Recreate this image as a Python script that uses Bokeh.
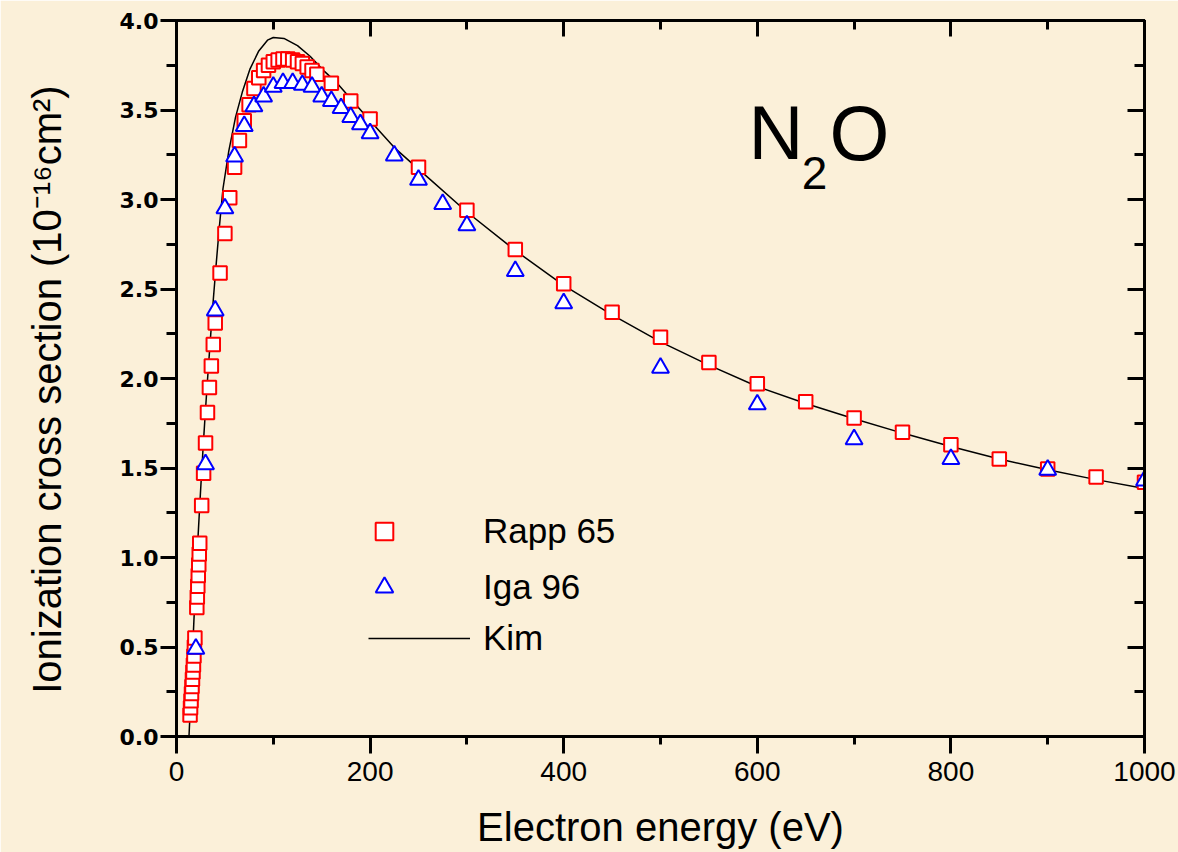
from bokeh.plotting import figure
from bokeh.models import (LinearAxis, Range1d, Legend, LegendItem, Label,
                          SingleIntervalTicker, PrintfTickFormatter, CustomJSTickFormatter)
from bokeh.embed import file_html
from bokeh.resources import INLINE

# ---------------- data ----------------
rapp_E = [14.0, 14.5, 15.0, 15.5, 16.0, 16.5, 17.0, 17.5, 18.0, 18.5, 19.0,
          21.0, 21.5, 22.0, 22.5, 23.0, 23.5, 24.0,
          26, 28, 30, 32, 34, 36, 38, 40,
          45, 50, 55, 60,
          65, 70, 75, 80, 85, 90, 95, 100, 105, 110, 115, 120, 125, 130, 135, 140, 145,
          160, 180, 200, 250, 300, 350, 400, 450, 500, 550, 600, 650, 700, 750, 800,
          850, 900, 950, 1000]
rapp_sigma = [0.12, 0.16, 0.20, 0.24, 0.28, 0.32, 0.36, 0.40, 0.45, 0.50, 0.55,
              0.72, 0.78, 0.84, 0.90, 0.96, 1.02, 1.08,
              1.29, 1.47, 1.64, 1.81, 1.95, 2.07, 2.19, 2.31,
              2.59, 2.81, 3.01, 3.18,
              3.33, 3.44, 3.53, 3.62, 3.68, 3.72, 3.75, 3.77, 3.78, 3.785, 3.785, 3.78, 3.77,
              3.76, 3.74, 3.72, 3.70,
              3.65, 3.55, 3.45, 3.18, 2.94, 2.72, 2.53, 2.37, 2.23, 2.09, 1.97, 1.87, 1.78,
              1.70, 1.63, 1.55, 1.495, 1.45, 1.42]

iga_E = [20, 30, 40, 50, 60, 70, 80, 90, 100, 110, 120, 130, 140, 150, 160, 170, 180,
         190, 200, 225, 250, 275, 300, 350, 400, 500, 600, 700, 800, 900, 1000]
iga_sigma = [0.49, 1.52, 2.38, 2.95, 3.24, 3.41, 3.52, 3.575, 3.63, 3.65, 3.65, 3.64,
             3.63, 3.575, 3.55, 3.51, 3.46, 3.42, 3.37, 3.245, 3.11, 2.975, 2.855, 2.60,
             2.42, 2.06, 1.855, 1.66, 1.55, 1.49, 1.43]

kim_E = [12.9, 14, 16, 18, 20, 22, 24, 26, 28, 30, 32, 35, 38, 41, 44, 48, 54, 61, 68,
         76, 85, 94, 100, 111, 125, 138, 152, 166, 187, 200, 225, 250, 300, 350, 400,
         450, 500, 550, 600, 650, 700, 750, 800, 850, 900, 950, 1000]
kim_sigma = [0.0, 0.13, 0.40, 0.65, 0.88, 1.09, 1.29, 1.48, 1.66, 1.83, 1.99, 2.22, 2.44,
             2.64, 2.83, 3.06, 3.27, 3.46, 3.60, 3.73, 3.83, 3.89, 3.905, 3.90, 3.86, 3.80,
             3.72, 3.65, 3.52, 3.44, 3.29, 3.17, 2.93, 2.715, 2.52, 2.355, 2.205, 2.075,
             1.955, 1.86, 1.775, 1.695, 1.62, 1.55, 1.49, 1.435, 1.385]

x_title = "Electron energy (eV)"
y_title = "Ionization cross section (10\u207b\u00b9\u2076cm\u00b2)\u00a0\u00a0"
series_names = ["Rapp 65", "Iga 96", "Kim"]

# ---------------- figure ----------------
BG = "#FBF0D9"
FONT = "Liberation Sans"

p = figure(width=1178, height=852, x_range=Range1d(0, 1000), y_range=Range1d(0, 4.0),
           output_backend="svg", toolbar_location=None,
           min_border_left=176, min_border_right=34, min_border_top=20, min_border_bottom=116)
p.background_fill_color = BG
p.border_fill_color = BG
p.outline_line_color = "black"
p.outline_line_width = 3
p.grid.visible = False

xt = SingleIntervalTicker(interval=200, num_minor_ticks=2)
yt = SingleIntervalTicker(interval=0.5, num_minor_ticks=2)

def style_axis(ax):
    ax.axis_line_width = 3
    ax.axis_line_color = "black"
    ax.major_tick_line_width = 3
    ax.minor_tick_line_width = 3
    ax.major_tick_line_color = "black"
    ax.minor_tick_line_color = "black"

xa = p.xaxis[0]
xa.ticker = xt
style_axis(xa)
xa.major_tick_out = 17
xa.major_tick_in = 0
xa.minor_tick_out = 8
xa.minor_tick_in = 0
xa.major_label_text_font = FONT
xa.major_label_text_font_size = "28px"
xa.major_label_text_color = "black"
xa.major_label_standoff = 8
xa.axis_label = x_title
xa.axis_label_text_font = FONT
xa.axis_label_text_font_size = "40px"
xa.axis_label_text_font_style = "normal"
xa.axis_label_text_color = "black"
xa.axis_label_standoff = 21

ya = p.yaxis[0]
ya.ticker = yt
style_axis(ya)
ya.formatter = PrintfTickFormatter(format="%.1f")
ya.major_tick_out = 16
ya.major_tick_in = 0
ya.minor_tick_out = 10
ya.minor_tick_in = 0
ya.major_label_text_font = "DejaVu Sans"
ya.major_label_text_font_style = "bold"
ya.major_label_text_font_size = "22px"
ya.major_label_text_color = "black"
ya.major_label_standoff = 2
ya.axis_label = y_title
ya.axis_label_text_font = FONT
ya.axis_label_text_font_size = "40px"
ya.axis_label_text_font_style = "normal"
ya.axis_label_text_color = "black"
ya.axis_label_standoff = 48

blank = CustomJSTickFormatter(code="return ''")
top = LinearAxis(ticker=SingleIntervalTicker(interval=200, num_minor_ticks=2), formatter=blank,
                 major_tick_in=16, major_tick_out=0, minor_tick_in=9, minor_tick_out=0,
                 major_label_standoff=0)
style_axis(top)
p.add_layout(top, "above")
right = LinearAxis(ticker=SingleIntervalTicker(interval=0.5, num_minor_ticks=2), formatter=blank,
                   major_tick_in=17, major_tick_out=0, minor_tick_in=10, minor_tick_out=0,
                   major_label_standoff=0)
style_axis(right)
p.add_layout(right, "right")

# ---------------- glyphs ----------------
kim = p.line(kim_E, kim_sigma, line_color="black", line_width=1.5)
rapp = p.scatter(rapp_E, rapp_sigma, marker="square", size=13.5, fill_color="white",
                 line_color="#FF0000", line_width=2)
iga = p.scatter(iga_E, iga_sigma, marker="triangle", size=17, fill_color="white",
                line_color="#0000FF", line_width=2)

# ---------------- legends ----------------
leg1 = Legend(items=[LegendItem(label=series_names[0], renderers=[rapp]),
                     LegendItem(label=series_names[1], renderers=[iga])],
              location=(186, 121), glyph_width=44, glyph_height=56, label_height=56,
              label_standoff=77, spacing=0, padding=0, margin=0,
              border_line_color=None, background_fill_alpha=0,
              label_text_font=FONT, label_text_font_size="35px", label_text_color="black")
leg2 = Legend(items=[LegendItem(label=series_names[2], renderers=[kim])],
              location=(192, 73), glyph_width=102, glyph_height=50, label_height=50,
              label_standoff=13, spacing=0, padding=0, margin=0,
              border_line_color=None, background_fill_alpha=0,
              label_text_font=FONT, label_text_font_size="35px", label_text_color="black")
p.add_layout(leg1)
p.add_layout(leg2)

# ---------------- molecule label ----------------
p.add_layout(Label(x=591, y=3.374, text="N", text_font=FONT, text_font_size="76px",
                   text_color="black", text_baseline="alphabetic"))
p.add_layout(Label(x=646, y=3.15, text="2", text_font=FONT, text_font_size="46px",
                   text_color="black", text_baseline="alphabetic"))
p.add_layout(Label(x=674.5, y=3.374, text="O", text_font=FONT, text_font_size="77px",
                   text_color="black", text_baseline="alphabetic"))

open("out.html", "w").write(file_html(p, INLINE))
